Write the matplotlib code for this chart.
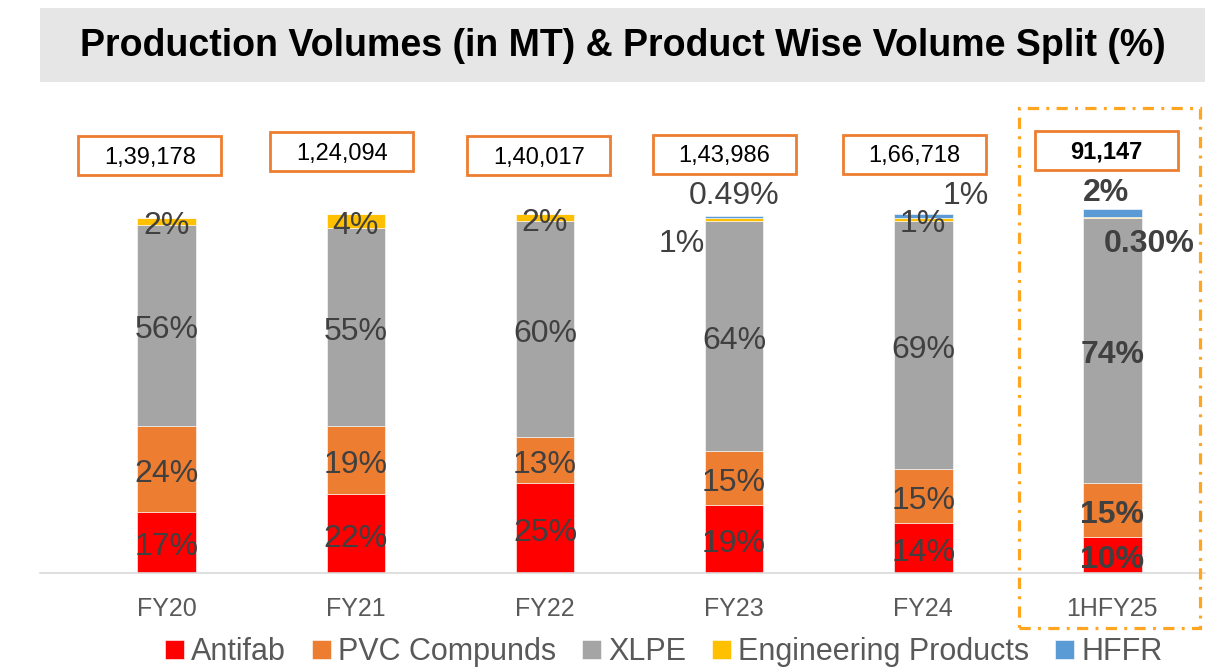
import matplotlib.pyplot as plt
import numpy as np
from matplotlib.patches import Rectangle

plt.rcParams["font.family"] = ["Liberation Sans", "DejaVu Sans"]

categories = ["FY20", "FY21", "FY22", "FY23", "FY24", "1HFY25"]
totals = ["1,39,178", "1,24,094", "1,40,017", "1,43,986", "1,66,718", "91,147"]
series = ["Antifab", "PVC Compunds", "XLPE", "Engineering Products", "HFFR"]
antifab = [17, 22, 25, 19, 14, 10]
pvc = [24, 19, 13, 15, 15, 15]
xlpe = [56, 55, 60, 64, 69, 74]
eng = [2, 4, 2, 1, 1, 0.30]
hffr = [0, 0, 0, 0.49, 1, 2]
labels = [
    ["17%", "22%", "25%", "19%", "14%", "10%"],
    ["24%", "19%", "13%", "15%", "15%", "15%"],
    ["56%", "55%", "60%", "64%", "69%", "74%"],
    ["2%", "4%", "2%", "1%", "1%", "0.30%"],
    ["", "", "", "0.49%", "1%", "2%"],
]
colors = ["#FF0000", "#ED7D31", "#A5A5A5", "#FFC000", "#5B9BD5"]

# label nudges (pixels) for the thin top segments
nudges = {(3, 3): (-52, -20), (4, 3): (0, 26), (4, 4): (43, 25),
          (3, 5): (37, -22), (4, 5): (-6, 25)}
box_dx = [-17, -14, -6, -10, -9, -6]
box_y = [116.2, 117.3, 116.2, 116.7, 116.7, 117.8]

W, H = 1216, 668
fig = plt.figure(figsize=(W / 100, H / 100), dpi=100)
ax = fig.add_axes([40 / W, (H - 573) / H, 1165 / W, 473 / H])
ppu = 3.59  # pixels per % unit
ax.set_xlim(-0.67, 5.49)
ax.set_ylim(0, 473 / ppu)
xppu = 1165 / 6.16

x = np.arange(len(categories))
data = [antifab, pvc, xlpe, eng, hffr]
bottom = np.zeros(len(categories))
for si, vals in enumerate(data):
    vals = np.array(vals, dtype=float)
    ax.bar(x, vals, 0.31, bottom=bottom, color=colors[si], label=series[si],
           edgecolor="white", linewidth=0.4, zorder=2)
    for ci in range(len(categories)):
        txt = labels[si][ci]
        if not txt:
            continue
        cy = bottom[ci] + vals[ci] / 2
        dx, dy = nudges.get((si, ci), (0, 0))
        ax.annotate(txt, (x[ci], cy), xytext=(dx, dy - 5), textcoords="offset pixels",
                    ha="center", va="center", fontsize=23, color="#404040",
                    fontweight="bold" if ci == 5 else "normal", zorder=4)
    bottom += vals

# total volume boxes
bw, bh = 143 / xppu, 39 / ppu
for ci, t in enumerate(totals):
    cx = x[ci] + box_dx[ci] / xppu
    ax.add_patch(Rectangle((cx - bw / 2, box_y[ci] - bh / 2), bw, bh, facecolor="white",
                           edgecolor="#ED7D31", linewidth=2, clip_on=False, zorder=3))
    ax.annotate(t, (cx, box_y[ci]), xytext=(0, -2), textcoords="offset pixels",
                ha="center", va="center", fontsize=17, color="black",
                fontweight="bold" if ci == 5 else "normal", zorder=4)

for s in ["top", "right", "left"]:
    ax.spines[s].set_visible(False)
ax.spines["bottom"].set_color("#D9D9D9")
ax.spines["bottom"].set_linewidth(1.2)
ax.set_yticks([])
ax.set_xticks(x)
ax.set_xticklabels(categories, fontsize=18, color="#595959")
ax.tick_params(axis="x", length=0, pad=17)

# title banner
fig.patches.append(Rectangle((40 / W, 1 - 82 / H), 1165 / W, 74 / H, transform=fig.transFigure,
                             facecolor="#E7E6E6", edgecolor="none", zorder=0))
fig.text(623 / W, 1 - 46 / H, "Production Volumes (in MT) & Product Wise Volume Split (%)",
         ha="center", va="center", fontsize=27, fontweight="bold", color="black")

# highlight box around latest period
fig.patches.append(Rectangle((1019 / W, 1 - 628 / H), 181 / W, 520 / H, transform=fig.transFigure,
                             facecolor="none", edgecolor="#FFA51F", linewidth=2.3,
                             linestyle=(0, (3.5, 2.3, 0.9, 2.3)), zorder=5))

fig.legend(loc="center", bbox_to_anchor=(664 / W, 1 - 652 / H), ncol=5, frameon=False,
           fontsize=22, labelcolor="#595959", handlelength=0.6, handleheight=0.6,
           handletextpad=0.25, columnspacing=0.85)

fig.savefig("out.png", dpi=100)
